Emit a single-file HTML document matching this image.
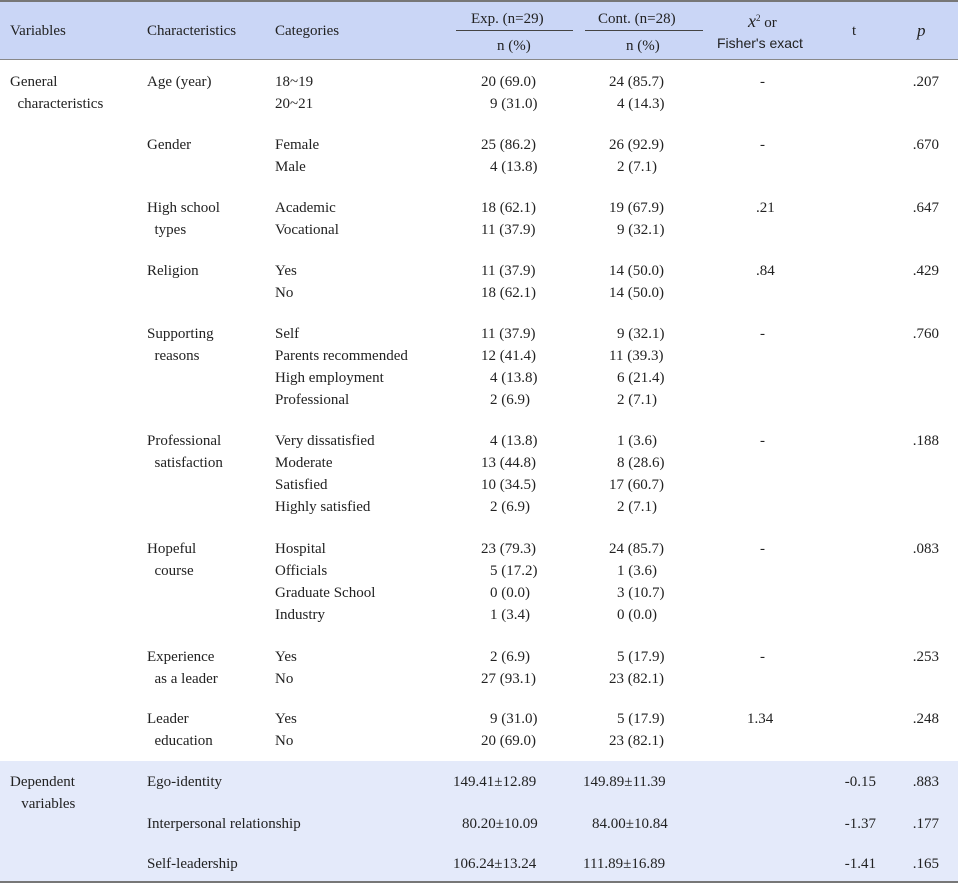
<!DOCTYPE html>
<html><head><meta charset="utf-8"><style>
body{margin:0;width:958px;height:885px;background:#fff;position:relative;overflow:hidden;font-family:"Liberation Serif",serif;font-size:15px;color:#222}
.t{position:absolute;line-height:22px;white-space:nowrap}
.r{text-align:right}
</style></head><body>
<div style="position:absolute;left:0;top:1px;width:958px;height:59px;background:#cad6f6"></div>
<div style="position:absolute;left:0;top:0;width:958px;height:2px;background:#777"></div>
<div style="position:absolute;left:0;top:59px;width:958px;height:1px;background:#888"></div>
<div style="position:absolute;left:0;top:761px;width:958px;height:121px;background:#e4eafa"></div>
<div style="position:absolute;left:0;top:881px;width:958px;height:2px;background:#777"></div>
<div style="position:absolute;left:456px;top:30px;width:117px;height:1px;background:#444"></div>
<div style="position:absolute;left:585px;top:30px;width:118px;height:1px;background:#444"></div>

<div class="t" style="left:10px;top:20px">Variables</div>
<div class="t" style="left:147px;top:20px">Characteristics</div>
<div class="t" style="left:275px;top:20px">Categories</div>
<div class="t" style="left:471px;top:8px">Exp. (n=29)</div>
<div class="t" style="left:598px;top:8px">Cont. (n=28)</div>
<div class="t" style="left:497px;top:35px">n (%)</div>
<div class="t" style="left:626px;top:35px">n (%)</div>
<div class="t" style="left:748px;top:7px"><i style="font-size:18px">x</i><sup style="font-size:9px">2</sup> or</div>
<div class="t" style="left:717px;top:32px;font-family:'Liberation Sans',sans-serif;font-size:14px">Fisher's exact</div>
<div class="t" style="left:852px;top:20px">t</div>
<div class="t" style="left:917px;top:20px;font-size:17px"><i>p</i></div>

<div id="rows"></div>
<script>
const rows=[
 // [centerY, variables, characteristics, category, exp, cont, chi, t, p]
 [82,'General','Age (year)','18~19','20 (69.0)','24 (85.7)','-','','.207'],
 [104,'&nbsp;&nbsp;characteristics','','20~21','9 (31.0)','4 (14.3)','','',''],
 [145,'','Gender','Female','25 (86.2)','26 (92.9)','-','','.670'],
 [167,'','','Male','4 (13.8)','2 (7.1)','','',''],
 [208,'','High school','Academic','18 (62.1)','19 (67.9)','.21','','.647'],
 [230,'','&nbsp;&nbsp;types','Vocational','11 (37.9)','9 (32.1)','','',''],
 [271,'','Religion','Yes','11 (37.9)','14 (50.0)','.84','','.429'],
 [293,'','','No','18 (62.1)','14 (50.0)','','',''],
 [334,'','Supporting','Self','11 (37.9)','9 (32.1)','-','','.760'],
 [356,'','&nbsp;&nbsp;reasons','Parents recommended','12 (41.4)','11 (39.3)','','',''],
 [378,'','','High employment','4 (13.8)','6 (21.4)','','',''],
 [400,'','','Professional','2 (6.9)','2 (7.1)','','',''],
 [441,'','Professional','Very dissatisfied','4 (13.8)','1 (3.6)','-','','.188'],
 [463,'','&nbsp;&nbsp;satisfaction','Moderate','13 (44.8)','8 (28.6)','','',''],
 [485,'','','Satisfied','10 (34.5)','17 (60.7)','','',''],
 [507,'','','Highly satisfied','2 (6.9)','2 (7.1)','','',''],
 [549,'','Hopeful','Hospital','23 (79.3)','24 (85.7)','-','','.083'],
 [571,'','&nbsp;&nbsp;course','Officials','5 (17.2)','1 (3.6)','','',''],
 [593,'','','Graduate School','0 (0.0)','3 (10.7)','','',''],
 [615,'','','Industry','1 (3.4)','0 (0.0)','','',''],
 [657,'','Experience','Yes','2 (6.9)','5 (17.9)','-','','.253'],
 [679,'','&nbsp;&nbsp;as a leader','No','27 (93.1)','23 (82.1)','','',''],
 [719,'','Leader','Yes','9 (31.0)','5 (17.9)','1.34','','.248'],
 [741,'','&nbsp;&nbsp;education','No','20 (69.0)','23 (82.1)','','',''],
 [782,'Dependent','Ego-identity','','149.41±12.89','149.89±11.39','','-0.15','.883'],
 [804,'&nbsp;&nbsp;&nbsp;variables','','','','','','',''],
 [824,'','Interpersonal relationship','','80.20±10.09','84.00±10.84','','-1.37','.177'],
 [864,'','Self-leadership','','106.24±13.24','111.89±16.89','','-1.41','.165']
];
const root=document.getElementById('rows');
function add(html,left,top,name,right){
 if(!html)return;
 const d=document.createElement('div');
 d.className='t'+(right?' r':'');
 d.style.top=top+'px';
 if(right){d.style.left=(left-200)+'px';d.style.width='200px';}else d.style.left=left+'px';
 d.innerHTML=html;
 
 
 root.appendChild(d);
}
function pad(s){ // align by digit count before first space
 return s;
}
rows.forEach(r=>{
 const top=r[0]-11;
 add(r[1],10,top,'variable-label');
 add(r[2],147,top,'characteristic-label');
 add(r[3],275,top,'category-label');
 const dep=r[4].includes('±');
 if(r[4]){
  const lead=r[4].split(/[ .]/)[0].length;
  const x=dep?(lead>=3?453:462):(lead>=2?481:490);
  add(r[4],x,top,'exp-value');
 }
 if(r[5]){
  const lead=r[5].split(/[ .]/)[0].length;
  const x=dep?(lead>=3?583:592):(lead>=2?609:617);
  add(r[5],x,top,'cont-value');
 }
 if(r[6]) add(r[6],r[6]==='-'?760:(r[6].length>3?747:756),top,'chi-square-value');
 add(r[7],876,top,'t-value',true);
 add(r[8],939,top,'p-value',true);
});
</script>
</body></html>
